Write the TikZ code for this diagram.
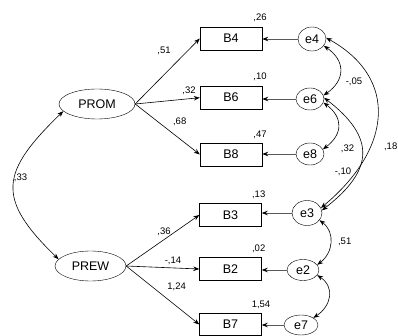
\documentclass[tikz,border=0pt]{standalone}
\usepackage{fontspec}
\setmainfont{Liberation Sans}
\usetikzlibrary{arrows.meta,shapes.geometric}
\begin{document}
\begin{tikzpicture}[x=1pt,y=-1pt,
  obs/.style={draw,rectangle,minimum width=62pt,minimum height=23pt,inner sep=0pt,font=\fontsize{12.5}{14}\selectfont},
  lat/.style={draw,ellipse,inner sep=0pt,font=\fontsize{12.5}{14}\selectfont},
  err/.style={draw,ellipse,inner sep=0pt,font=\fontsize{12.5}{14}\selectfont},
  lbl/.style={inner sep=0pt,font=\fontsize{9.5}{11}\selectfont},
  arr/.style={line width=0.6pt,-{Stealth[length=6pt,width=4.5pt]}},
  earr/.style={line width=0.9pt,draw=black!65,-{Stealth[length=6pt,width=4.5pt,fill=black,color=black]}},
  cov/.style={line width=0.6pt,{Stealth[length=6pt,width=4.5pt]}-{Stealth[length=6pt,width=4.5pt]}}]
\useasboundingbox (0,0) rectangle (398,336);
% latent
\node[lat,minimum width=76pt,minimum height=30pt] (PROM) at (97,104) {PROM};
\node[lat,minimum width=71pt,minimum height=30pt] (PREW) at (90.5,266) {PREW};
% observed
\node[obs] (B4) at (231,38.5) {B4};
\node[obs] (B6) at (231,97.7) {B6};
\node[obs] (B8) at (231,154.5) {B8};
\node[obs] (B3) at (230.5,215) {B3};
\node[obs] (B2) at (230.5,269) {B2};
\node[obs,minimum height=22pt] (B7) at (230.5,324.5) {B7};
% errors
\node[err,minimum width=28pt,minimum height=24pt] (e4) at (312,39) {e4};
\node[err,minimum width=28pt,minimum height=22pt] (e6) at (310,99) {e6};
\node[err,minimum width=28pt,minimum height=22pt] (e8) at (310,154) {e8};
\node[err,minimum width=30pt,minimum height=25pt] (e3) at (307,213) {e3};
\node[err,minimum width=32pt,minimum height=21pt] (e2) at (303,270) {e2};
\node[err,minimum width=34pt,minimum height=20pt] (e7) at (301,325) {e7};
% loadings
\draw[arr] (PROM.east) -- (B4.west);
\draw[arr] (PROM.east) -- (B6.west);
\draw[arr] (PROM.east) -- (B8.west);
\draw[arr] (PREW.east) -- (B3.west);
\draw[arr] (PREW.east) -- (B2.west);
\draw[arr] (PREW.east) -- (B7.west);
% error paths
\draw[earr] (e4) -- (e4 -| B4.east);
\draw[earr] (e6) -- (e6 -| B6.east);
\draw[earr] (e8) -- (e8 -| B8.east);
\draw[earr] (e3) -- (e3 -| B3.east);
\draw[earr] (e2) -- (e2 -| B2.east);
\draw[earr] (e7) -- (e7 -| B7.east);
% covariances
\draw[cov] (PROM.192) .. controls +(-63,61) and +(-63,-61) .. (PREW.168);
\draw[cov] (e4.330) .. controls +(22,15) and +(22,-15) .. (e6.15);
\draw[cov] (e6.345) .. controls +(20,15) and +(20,-15) .. (e8.20);
\draw[cov] (e6.5) .. controls +(52,40) and +(52,-40) .. (e3.10);
\draw[cov] (e4.5) .. controls +(72,40) and +(72,-60) .. (e3.20);
\draw[cov] (e3.330) .. controls +(16,12) and +(16,-12) .. (e2.20);
\draw[cov] (e2.340) .. controls +(18,12) and +(18,-12) .. (e7.30);
% labels
\node[lbl] (l51) at (164,50.5) {,51};
\node[lbl] (l32a) at (189,90.7) {,32};
\node[lbl] (l68) at (179.7,121.7) {,68};
\node[lbl] (l36) at (164,231.7) {,36};
\node[lbl] (l14) at (173,260.7) {-,14};
\node[lbl] (l124) at (176.7,287) {1,24};
\node[lbl] (l33) at (20.5,177.5) {,33};
\node[lbl] (l26) at (260,18) {,26};
\node[lbl] (l10) at (260,77) {,10};
\node[lbl] (l47) at (260,134.5) {,47};
\node[lbl] (l13) at (258.7,195) {,13};
\node[lbl] (l02) at (258.7,249) {,02};
\node[lbl] (l154) at (261,305) {1,54};
\node[lbl] (l05) at (354,82) {-,05};
\node[lbl] (l32b) at (347.5,149) {,32};
\node[lbl] (l18) at (390.7,147) {,18};
\node[lbl] (l10b) at (343,171.5) {-,10};
\node[lbl] (l51b) at (344.7,242) {,51};
\end{tikzpicture}
\end{document}
